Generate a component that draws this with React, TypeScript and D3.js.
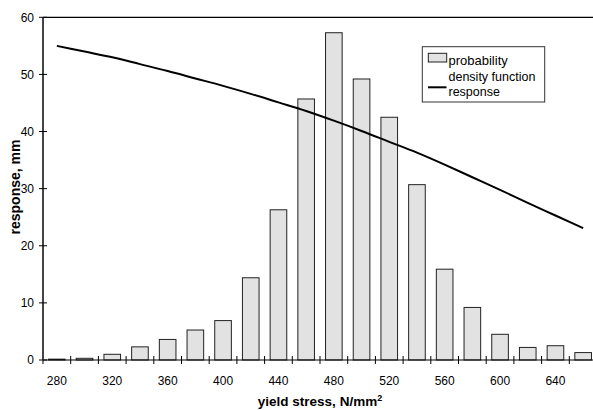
import React from "react";
import * as d3 from "d3";

// yield stress classes, N/mm2
const stressClasses = [280, 300, 320, 340, 360, 380, 400, 420, 440, 460, 480, 500, 520, 540, 560, 580, 600, 620, 640, 660];
// bar heights (probability)
const probability = [0.15, 0.3, 1.0, 2.3, 3.6, 5.25, 6.9, 14.4, 26.3, 45.7, 57.3, 49.2, 42.5, 30.7, 15.9, 9.2, 4.5, 2.2, 2.5, 1.3];
// density function response line
const response = [55.0, 54.0, 53.0, 51.8, 50.6, 49.3, 48.0, 46.6, 45.1, 43.6, 41.9, 40.1, 38.2, 36.3, 34.2, 32.0, 29.8, 27.5, 25.3, 23.1];
const yTicks = [0, 10, 20, 30, 40, 50, 60];
const xLabels = [280, 320, 360, 400, 440, 480, 520, 560, 600, 640];

const W = 593;
const H = 410;
const left = 43;
const top = 17.3;
const bottom = 360;
const right = 597;

export default function App() {
  const x = d3
    .scaleBand<number>()
    .domain(stressClasses)
    .range([left, right])
    .paddingInner(0.4)
    .paddingOuter(0.2);
  const y = d3.scaleLinear().domain([0, 60]).range([bottom, top]);
  const step = x.step();
  const bw = x.bandwidth();
  const center = (v: number) => (x(v) as number) + bw / 2;

  const line = d3
    .line<number>()
    .x((_, i) => center(stressClasses[i]))
    .y((d) => y(d))
    .curve(d3.curveMonotoneX);

  const font = "'Liberation Sans', Arial, sans-serif";

  return (
    <svg width={W} height={H} style={{ position: "absolute", left: 0, top: 0, background: "#fff" }} fontFamily={font}>
      {/* bars */}
      {stressClasses.map((c, i) => (
        <rect
          key={c}
          x={x(c)}
          y={y(probability[i])}
          width={bw}
          height={bottom - y(probability[i])}
          fill="#e2e2e2"
          stroke="#222"
          strokeWidth={1}
        />
      ))}
      {/* top frame line */}
      <line x1={left} x2={W} y1={top} y2={top} stroke="#000" strokeWidth={1.2} />
      {/* x axis */}
      <line x1={left} x2={W} y1={bottom} y2={bottom} stroke="#000" strokeWidth={1.2} />
      {d3.range(stressClasses.length + 1).map((k) => (
        <line key={k} x1={left + k * step} x2={left + k * step} y1={bottom - 4} y2={bottom + 4} stroke="#000" strokeWidth={1} />
      ))}
      {xLabels.map((v) => (
        <text key={v} x={center(v)} y={385} fontSize={12} textAnchor="middle" fill="#000">
          {v}
        </text>
      ))}
      {/* y axis */}
      <line x1={left} x2={left} y1={top} y2={bottom} stroke="#444" strokeWidth={2} />
      {yTicks.map((t) => (
        <g key={t}>
          <line x1={left - 4} x2={left + 4} y1={y(t)} y2={y(t)} stroke="#000" strokeWidth={1} />
          <text x={34} y={y(t) + 4.2} fontSize={12} textAnchor="end" fill="#000">
            {t}
          </text>
        </g>
      ))}
      {/* response line */}
      <path d={line(response) || ""} fill="none" stroke="#000" strokeWidth={2} />
      {/* axis titles */}
      <text x={320} y={406} fontSize={13.5} fontWeight="bold" textAnchor="middle" fill="#000">
        yield stress, N/mm<tspan fontSize={9} dy={-5}>2</tspan>
      </text>
      <text
        transform={`translate(20,187) rotate(-90)`}
        fontSize={14}
        fontWeight="bold"
        textAnchor="middle"
        fill="#000"
      >
        response, mm
      </text>
      {/* legend */}
      <g>
        <rect x={422.3} y={46.7} width={122.4} height={55.3} fill="#fff" stroke="#333" strokeWidth={1} />
        <rect x={428.3} y={53.3} width={18.4} height={8.7} fill="#e2e2e2" stroke="#222" strokeWidth={1} />
        <text x={448.5} y={65} fontSize={13} fill="#000">probability</text>
        <line x1={428} x2={446.5} y1={87.3} y2={87.3} stroke="#000" strokeWidth={2} />
        <text x={448.5} y={81} fontSize={12.5} fill="#000">density function</text>
        <text x={448.5} y={95.8} fontSize={12.5} fill="#000">response</text>
      </g>
    </svg>
  );
}
